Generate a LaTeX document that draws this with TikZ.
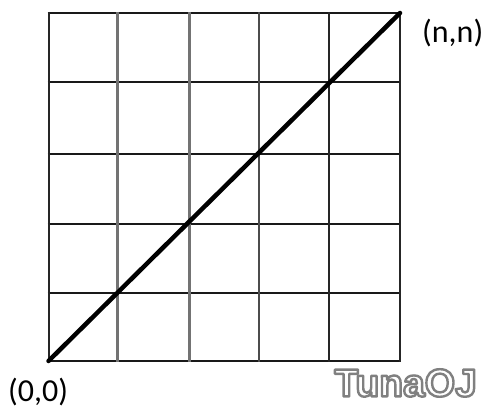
\documentclass[tikz,border=0pt]{standalone}
\usepackage{fontspec}
\setmainfont{Carlito}
\newfontfamily\wmfont{Liberation Sans}
\begin{document}
\begin{tikzpicture}[x=1pt,y=-1pt,
  hline/.style={line width=2pt,black!90},
  vgray/.style={line width=3pt,black!55},
  vdark/.style={line width=2pt,black!85},
  diag/.style={line width=4.5pt,black},
  lbl/.style={font=\fontsize{32}{32}\selectfont,inner sep=0pt},
  wmtext/.style={font=\wmfont\bfseries\fontsize{39}{39}\selectfont,inner sep=0pt,anchor=east}]
\useasboundingbox (0,0) rectangle (489,411);
\fill[white] (0,0) rectangle (489,411);
% grid corner coordinates
\coordinate (o) at (48.5,361);
\coordinate (n) at (400,13);
% horizontals
\foreach \y in {13,82,154,224,293,361}
  \draw[hline] (47.5,\y) -- (401,\y);
% verticals
\draw[vdark] (48.5,12) -- (48.5,362);
\draw[vgray] (117.5,12) -- (117.5,362);
\draw[vgray] (189,12) -- (189,362);
\draw[line width=2pt,black!70] (258.5,12) -- (258.5,362);
\draw[vdark] (328.5,12) -- (328.5,362);
\draw[vdark] (400,12) -- (400,362);
% diagonal
\draw[diag,line cap=round] (o) -- (n);
% labels
\node[lbl,anchor=west] (ln) at (422,33) {(n,n)};
\node[lbl,anchor=west] (lo) at (8,392) {(0,0)};
% watermark: white letters with a gray outline (text render mode 2)
\node[wmtext,text=white] (wm) at (477,383)
  {\special{pdf:code q 2 Tr 2.4 w 1 j 0.5 G}TunaOJ\special{pdf:code Q}};
\end{tikzpicture}
\end{document}
